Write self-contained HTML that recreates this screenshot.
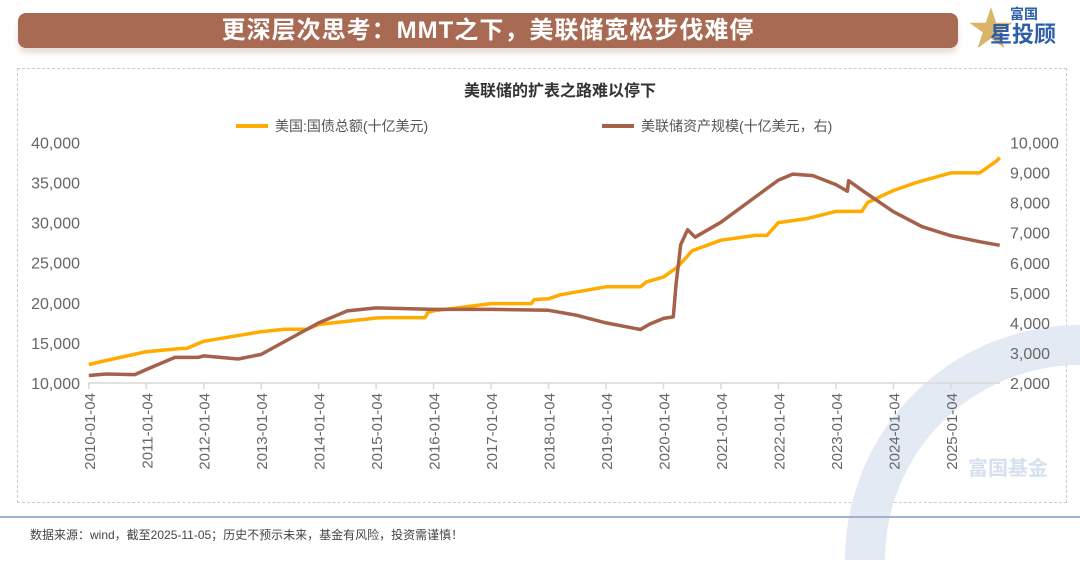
<!DOCTYPE html>
<html><head><meta charset="utf-8">
<style>
html,body{margin:0;width:1080px;height:563px;background:#fff;overflow:hidden;font-family:"Liberation Sans","Noto Sans CJK SC",sans-serif;}
#wrap{position:relative;width:1080px;height:563px;overflow:hidden;}
.banner{position:absolute;left:18px;top:13px;width:940px;height:35px;background:#a86a53;border-radius:8px;color:#fff;font-weight:bold;font-size:24px;text-align:center;line-height:35px;letter-spacing:1px;box-shadow:0 5px 6px #e9ddd8;}
.box{position:absolute;left:17px;top:68px;width:1050px;height:435px;border:1px dashed #ccc;box-sizing:border-box;}
.foot{position:absolute;left:0;top:516px;width:1080px;height:0;border-top:2px solid #9fb3cf;}
.ftxt{position:absolute;left:30px;top:527px;font-size:12px;line-height:16px;color:#444;}
</style></head><body><div id="wrap">
<div class="banner">更深层次思考：MMT之下，美联储宽松步伐难停</div>
<div style="position:absolute;left:968px;top:4px;width:108px;height:48px;overflow:hidden;">
<div style="position:absolute;left:0;top:2px;font-size:46px;color:#d9b46a;line-height:46px;">★</div>
<div style="position:absolute;left:42px;top:2px;font-size:14px;line-height:16px;font-weight:bold;color:#2d5ea8;">富国</div>
<div style="position:absolute;left:22px;top:18px;font-size:22px;line-height:26px;font-weight:bold;color:#2d5ea8;">星投顾</div>
</div>
<div class="box"></div>
<svg id="chart" width="1080" height="563" style="position:absolute;left:0;top:0;overflow:hidden"></svg>
<div class="foot"></div>
<div class="ftxt">数据来源：wind，截至2025-11-05；历史不预示未来，基金有风险，投资需谨慎！</div>
</div>
<script>
const debtT=[2010,2010.3,2011,2011.6,2011.7,2012,2013,2013.4,2013.8,2014,2015,2015.2,2015.85,2015.9,2016,2016.9,2017,2017.7,2017.75,2018,2018.2,2019,2019.2,2019.6,2019.7,2020,2020.25,2020.5,2021,2021.6,2021.8,2021.95,2022,2022.5,2023,2023.05,2023.45,2023.55,2024,2024.4,2025,2025.5,2025.8,2025.85];
const debtV=[12300,12800,13900,14300,14300,15200,16400,16700,16700,17300,18100,18150,18150,18800,19000,19800,19900,19900,20400,20500,21000,22000,22000,22000,22600,23200,24500,26500,27800,28400,28400,29600,30000,30500,31400,31400,31400,32500,34000,35000,36200,36200,37700,38100];
const fedT=[2010,2010.3,2010.8,2011,2011.5,2011.9,2012,2012.6,2013,2014,2014.5,2015,2016,2017,2018,2018.5,2019,2019.6,2019.75,2020,2020.17,2020.22,2020.3,2020.42,2020.55,2021,2021.5,2022,2022.25,2022.6,2023,2023.2,2023.22,2023.5,2024,2024.5,2025,2025.5,2025.85];
const fedV=[2250,2300,2280,2450,2850,2850,2900,2800,2950,4000,4400,4500,4450,4450,4420,4250,4000,3780,3950,4150,4200,5300,6600,7100,6850,7350,8050,8750,8950,8900,8600,8380,8730,8350,7700,7200,6900,6700,6580];
const leftTicks=[10000,15000,20000,25000,30000,35000,40000];
const rightTicks=[2000,3000,4000,5000,6000,7000,8000,9000,10000];
const xTicks=[2010,2011,2012,2013,2014,2015,2016,2017,2018,2019,2020,2021,2022,2023,2024,2025];
const X=t=>88.8+(t-2010)*57.47;
const YL=v=>383-(v-10000)*0.00802;
const YR=v=>383-(v-2000)*0.03006;
const svg=document.getElementById('chart');const NS='http://www.w3.org/2000/svg';
function mk(tag,a,txt){const e=document.createElementNS(NS,tag);for(const k in a)e.setAttribute(k,a[k]);if(txt!=null)e.textContent=txt;svg.appendChild(e);return e;}
let w=mk('path',{d:'M865 560 A215 215 0 0 1 1080 345',fill:'none',stroke:'#e3eaf4','stroke-width':40});


w=mk('text',{x:968,y:475,'font-size':20,'font-weight':'bold',fill:'#d6e0ee'},'富国基金');


let e=mk('text',{x:560,y:96,'text-anchor':'middle','font-size':16,'font-weight':'bold',fill:'#333'},'美联储的扩表之路难以停下');


e=mk('line',{x1:236,y1:126,x2:268,y2:126,stroke:'#ffab00','stroke-width':4});


e=mk('text',{x:275,y:131,'font-size':14,fill:'#555'},'美国:国债总额(十亿美元)');


e=mk('line',{x1:602,y1:126,x2:634,y2:126,stroke:'#a5614a','stroke-width':4});


e=mk('text',{x:641,y:131,'font-size':14,fill:'#555'},'美联储资产规模(十亿美元，右)');


e=mk('line',{x1:88,y1:383,x2:1000,y2:383,stroke:'#d9d9d9','stroke-width':1.5});


leftTicks.forEach(v=>{const t=mk('text',{x:80,y:YL(v)+6,'text-anchor':'end','font-size':16,fill:'#666'},v.toLocaleString('en-US'));

});
rightTicks.forEach(v=>{const t=mk('text',{x:1010,y:YR(v)+6,'font-size':16,fill:'#666'},v.toLocaleString('en-US'));

});
xTicks.forEach(y=>{const x=X(y);const l=mk('line',{x1:x,y1:383,x2:x,y2:389,stroke:'#d9d9d9','stroke-width':1.5});


const t=mk('text',{x:x+6,y:393,'text-anchor':'end','font-size':15,fill:'#666',transform:`rotate(-90 ${x+6} 393)`},y+'-01-04');

});
let p=mk('path',{d:debtT.map((t,i)=>(i?'L':'M')+X(t).toFixed(1)+' '+YL(debtV[i]).toFixed(1)).join(''),fill:'none',stroke:'#ffab00','stroke-width':3.5,'stroke-linejoin':'round'});


p=mk('path',{d:fedT.map((t,i)=>(i?'L':'M')+X(t).toFixed(1)+' '+YR(fedV[i]).toFixed(1)).join(''),fill:'none',stroke:'#a5614a','stroke-width':3.5,'stroke-linejoin':'round'});


</script></body></html>
